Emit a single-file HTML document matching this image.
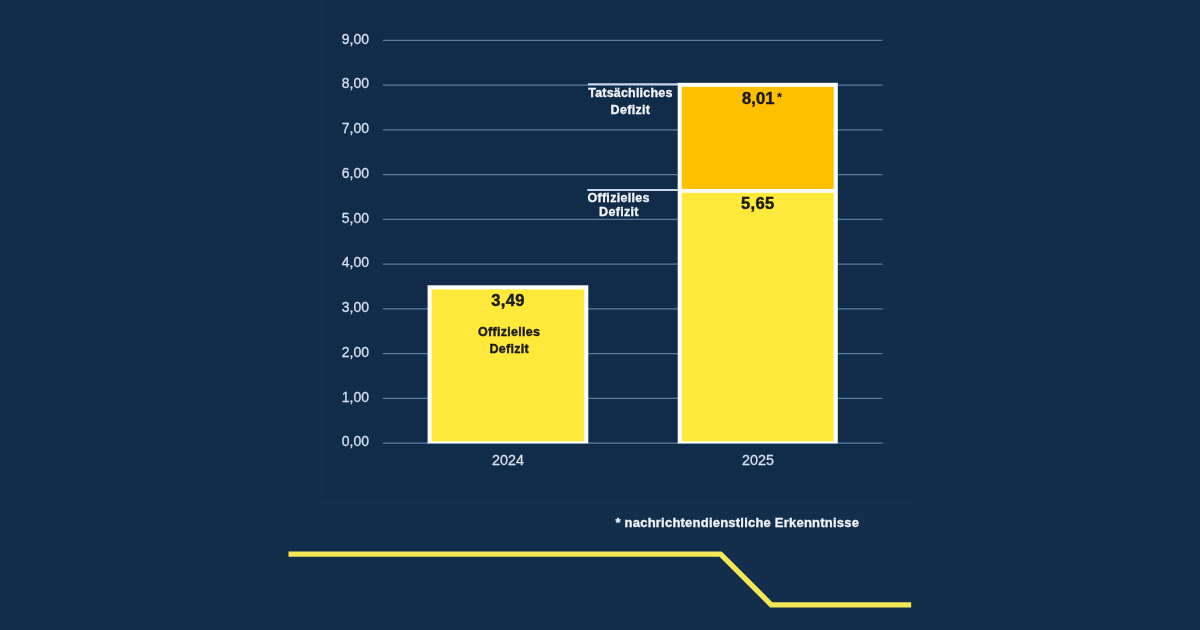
<!DOCTYPE html>
<html>
<head>
<meta charset="utf-8">
<style>
html,body{margin:0;padding:0;background:#122e4b;}
body{width:1200px;height:630px;overflow:hidden;}
svg{display:block;will-change:transform;}
text{font-family:"Liberation Sans",sans-serif;}
.yl{font-size:14px;fill:#d6e1f0;text-anchor:end;stroke:#d6e1f0;stroke-width:0.25px;}
.xl{font-size:14.35px;fill:#d6e1f0;text-anchor:middle;stroke:#d6e1f0;stroke-width:0.25px;}
.val{font-size:16.6px;font-weight:bold;fill:#1b1b1d;stroke:#1b1b1d;stroke-width:0.45px;text-anchor:middle;letter-spacing:0.3px;}
.lbd{font-size:12.5px;font-weight:bold;fill:#1b1b1d;stroke:#1b1b1d;stroke-width:0.4px;text-anchor:middle;letter-spacing:0.3px;}
.lbw{font-size:12.5px;font-weight:bold;fill:#f2f5fb;stroke:#f2f5fb;stroke-width:0.3px;text-anchor:middle;letter-spacing:0.3px;}
.fn{font-size:13px;font-weight:bold;fill:#f2f5fb;stroke:#f2f5fb;stroke-width:0.3px;letter-spacing:0.22px;}
</style>
</head>
<body>
<svg width="1200" height="630" viewBox="0 0 1200 630">
<defs><filter id="sb" x="-5%" y="-5%" width="110%" height="110%"><feGaussianBlur stdDeviation="0.75"/></filter></defs>
<rect x="0" y="0" width="1200" height="630" fill="#122e4b"/>
<rect x="322" y="0" width="590" height="500" fill="#112c49"/>
<!-- gridlines -->
<g stroke="#5b7a9f" stroke-width="1.25">
<line x1="382.8" x2="882.5" y1="40.4" y2="40.4"/>
<line x1="382.8" x2="882.5" y1="85.15" y2="85.15"/>
<line x1="382.8" x2="882.5" y1="129.9" y2="129.9"/>
<line x1="382.8" x2="882.5" y1="174.65" y2="174.65"/>
<line x1="382.8" x2="882.5" y1="219.4" y2="219.4"/>
<line x1="382.8" x2="882.5" y1="264.15" y2="264.15"/>
<line x1="382.8" x2="882.5" y1="308.9" y2="308.9"/>
<line x1="382.8" x2="882.5" y1="353.65" y2="353.65"/>
<line x1="382.8" x2="882.5" y1="398.4" y2="398.4"/>
<line x1="382.8" x2="882.5" y1="443.15" y2="443.15"/>
</g>
<!-- y labels -->
<g class="yl">
<text transform="translate(369,43.50) scale(1,1.05)">9,00</text>
<text transform="translate(369,88.25) scale(1,1.05)">8,00</text>
<text transform="translate(369,133.00) scale(1,1.05)">7,00</text>
<text transform="translate(369,177.75) scale(1,1.05)">6,00</text>
<text transform="translate(369,222.50) scale(1,1.05)">5,00</text>
<text transform="translate(369,267.25) scale(1,1.05)">4,00</text>
<text transform="translate(369,312.00) scale(1,1.05)">3,00</text>
<text transform="translate(369,356.75) scale(1,1.05)">2,00</text>
<text transform="translate(369,401.50) scale(1,1.05)">1,00</text>
<text transform="translate(369,446.25) scale(1,1.05)">0,00</text>
</g>
<!-- leader lines -->
<g stroke="#c9d6ec" stroke-width="2">
<line x1="588" x2="679" y1="84.2" y2="84.2"/>
<line x1="587.3" x2="679" y1="189.9" y2="189.9"/>
</g>
<!-- bar 2024 -->
<rect x="427.6" y="285.3" width="160.7" height="158.1" fill="#ffffff"/>
<rect x="431.7" y="289.4" width="152.5" height="152" fill="#ffe93b" filter="url(#sb)"/>
<!-- bar 2025 -->
<rect x="677.7" y="82.8" width="160.1" height="360.6" fill="#ffffff"/>
<rect x="681.8" y="86.9" width="151.9" height="102" fill="#fec003" filter="url(#sb)"/>
<rect x="681.8" y="192.8" width="151.9" height="248.6" fill="#ffe93b" filter="url(#sb)"/>
<!-- values -->
<text class="val" x="508.1" y="305.7">3,49</text>
<text class="val" x="757.8" y="208.7">5,65</text>
<text class="val" x="742.1" y="104" style="text-anchor:start;letter-spacing:0px">8,01</text>
<text class="val" x="777.3" y="101.2" style="text-anchor:start;font-size:11.5px;stroke-width:0.3px">*</text>
<!-- labels -->
<text class="lbd" x="509.2" y="336.2">Offizielles</text>
<text class="lbd" x="509.2" y="352.8">Defizit</text>
<text class="lbw" x="630.4" y="97.1" style="letter-spacing:0.2px">Tatsächliches</text>
<text class="lbw" x="630.4" y="113.5">Defizit</text>
<text class="lbw" x="618.6" y="202">Offizielles</text>
<text class="lbw" x="618.9" y="216.1">Defizit</text>
<!-- x labels -->
<text class="xl" transform="translate(507.9,465.1) scale(1,1.07)">2024</text>
<text class="xl" transform="translate(757.9,465.1) scale(1,1.07)">2025</text>
<!-- footnote -->
<text class="fn" x="615.5" y="526.5">* nachrichtendienstliche Erkenntnisse</text>
<!-- bottom line -->
<polyline points="288.5,554.2 720.6,554.2 771.2,604.8 911.2,604.8" fill="none" stroke="#f4e856" stroke-width="5.3" stroke-linejoin="miter"/>
</svg>
</body>
</html>
